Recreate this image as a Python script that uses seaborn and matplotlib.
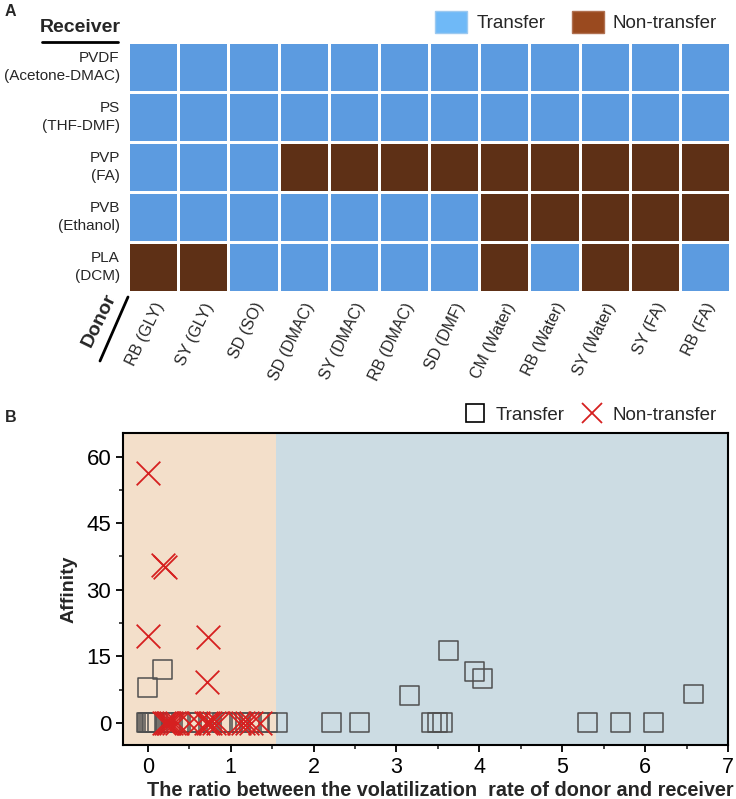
import numpy as np
import pandas as pd
import matplotlib
matplotlib.use("Agg")
import matplotlib.pyplot as plt
from matplotlib.colors import ListedColormap
from matplotlib.lines import Line2D
from matplotlib.patches import Patch
import seaborn as sns

sns.set_style("white")
plt.rcParams['font.family'] = ['Liberation Sans', 'DejaVu Sans']

# ---------------- data: panel A ----------------
receivers = ["PVDF\n(Acetone-DMAC)", "PS\n(THF-DMF)", "PVP\n(FA)", "PVB\n(Ethanol)", "PLA\n(DCM)"]
donors = ["RB (GLY)", "SY (GLY)", "SD (SO)", "SD (DMAC)", "SY (DMAC)", "RB (DMAC)",
          "SD (DMF)", "CM (Water)", "RB (Water)", "SY (Water)", "SY (FA)", "RB (FA)"]
# 1 = transfer, 0 = non-transfer
row_pvdf = [1, 1, 1, 1, 1, 1, 1, 1, 1, 1, 1, 1]
row_ps   = [1, 1, 1, 1, 1, 1, 1, 1, 1, 1, 1, 1]
row_pvp  = [1, 1, 1, 0, 0, 0, 0, 0, 0, 0, 0, 0]
row_pvb  = [1, 1, 1, 1, 1, 1, 1, 0, 0, 0, 0, 0]
row_pla  = [0, 0, 1, 1, 1, 1, 1, 0, 1, 0, 0, 1]

# ---------------- data: panel B ----------------
transfer_x = [0.0, 0.18, 3.63, 3.94, 4.04, 3.16, 6.58,
              -0.02, 0.0, 0.02, 0.04, 0.06, 0.08, 0.12, 0.2, 0.3, 0.4, 0.5, 0.6,
              0.75, 0.9, 0.95, 1.0, 1.1, 1.25, 1.35, 1.45, 1.56,
              2.22, 2.55, 3.42, 3.5, 3.55, 5.3, 5.7, 6.1]
transfer_y = [7.9, 12.1, 16.2, 11.5, 9.9, 6.1, 6.5,
              0, 0, 0, 0, 0, 0, 0, 0, 0, 0, 0, 0,
              0, 0, 0, 0, 0, 0, 0, 0, 0,
              0, 0, 0, 0, 0, 0, 0, 0]
nontransfer_x = [0.0, 0.18, 0.21, 0.0, 0.72, 0.71,
                 0.19, 0.22, 0.24, 0.26, 0.28, 0.31, 0.35, 0.5, 0.6, 0.7, 0.72, 0.75,
                 0.8, 0.85, 1.1, 1.15, 1.2, 1.25, 1.35]
nontransfer_y = [56.3, 35.6, 35.2, 19.6, 19.3, 9.1,
                 0, 0, 0, 0, 0, 0, 0, 0, 0, 0, 0, 0,
                 0, 0, 0, 0, 0, 0, 0]
boundary = 1.55

# ---------------- figure ----------------
W, H = 736, 799
fig = plt.figure(figsize=(W / 100, H / 100), dpi=100)

def fx(px):
    return px / W

def fy(py):
    return 1 - py / H

blue_cell = "#5c9be0"
brown_cell = "#5e3016"

# Panel A heatmap
axA = fig.add_axes([fx(128), fy(292), fx(730) - fx(128), fy(42) - fy(292)])
mat = pd.DataFrame([row_pvdf, row_ps, row_pvp, row_pvb, row_pla], index=receivers, columns=donors)
sns.heatmap(mat, ax=axA, cmap=ListedColormap([brown_cell, blue_cell]), vmin=0, vmax=1,
            cbar=False, linewidths=2, linecolor="white", square=False)
axA.tick_params(length=0, pad=6)
axA.set_yticklabels(receivers, rotation=0, fontsize=11, ha="right", linespacing=1.35)
axA.set_xticklabels(donors, rotation=64, fontsize=11.5, ha="right", rotation_mode="anchor")
axA.set_xlabel("")
axA.set_ylabel("")

fig.text(fx(5), fy(12), "A", fontsize=11.5, fontweight="bold", va="center", ha="left")
fig.text(fx(80), fy(27), "Receiver", fontsize=14, fontweight="bold", va="center", ha="center")
fig.add_artist(Line2D([fx(42), fx(118)], [fy(42), fy(42)], color="black", lw=2))
fig.text(fx(99), fy(320), "Donor", fontsize=14, fontweight="bold", va="center", ha="center", rotation=64)
fig.add_artist(Line2D([fx(100), fx(128)], [fy(361), fy(297)], color="black", lw=2))

legA = [Patch(facecolor="#6fb9f7", edgecolor="#9cc9f0", label="Transfer"),
        Patch(facecolor="#9a4a1f", edgecolor="#b07050", label="Non-transfer")]
fig.legend(handles=legA, loc="center right", bbox_to_anchor=(fx(734), fy(22)), ncol=2,
           frameon=False, fontsize=13.5, handlelength=1.7, handleheight=1.4,
           columnspacing=1.4, handletextpad=0.5)

# Panel B scatter
axB = fig.add_axes([fx(123), fy(745), fx(728) - fx(123), fy(433) - fy(745)])
xmin, xmax = -0.3, 7.0
axB.set_xlim(xmin, xmax)
axB.set_ylim(-5, 65.3)
axB.axvspan(xmin, boundary, color="#f3dfca", lw=0, zorder=0)
axB.axvspan(boundary, xmax, color="#ccdce3", lw=0, zorder=0)

df_t = pd.DataFrame({"x": transfer_x, "y": transfer_y})
df_n = pd.DataFrame({"x": nontransfer_x, "y": nontransfer_y})
sns.scatterplot(data=df_t, x="x", y="y", ax=axB, marker="s", s=185,
                facecolors="none", edgecolor="#505050", linewidth=1.1, zorder=3)
sns.scatterplot(data=df_n, x="x", y="y", ax=axB, marker="x", s=290,
                color="#d62020", linewidth=1.3, zorder=4)

axB.set_xticks(range(0, 8))
axB.set_yticks([0, 15, 30, 45, 60])
axB.set_xticks(np.arange(0.5, 7, 1), minor=True)
axB.set_yticks([7.5, 22.5, 37.5, 52.5], minor=True)
axB.tick_params(axis="both", which="major", direction="out", length=5, width=1.3,
                colors="black", bottom=True, left=True)
axB.tick_params(axis="y", which="major", labelsize=16)
axB.tick_params(axis="x", which="major", labelsize=15.5)
axB.tick_params(axis="both", which="minor", direction="out", length=3, width=1.2,
                bottom=True, left=True)
for sp in axB.spines.values():
    sp.set_color("black")
    sp.set_linewidth(1.5)
axB.set_xlabel("The ratio between the volatilization  rate of donor and receiver",
               fontsize=14.3, fontweight="bold", labelpad=2)
axB.xaxis.set_label_coords((440.5 - 123) / 605, -0.115)
axB.set_ylabel("Affinity", fontsize=14, fontweight="bold", labelpad=6)

fig.text(fx(5), fy(417), "B", fontsize=11.5, fontweight="bold", va="center", ha="left")
legB = [Line2D([], [], marker="s", ls="none", markersize=13, markerfacecolor="none",
               markeredgecolor="black", markeredgewidth=1.2, label="Transfer"),
        Line2D([], [], marker="x", ls="none", markersize=15, color="#d62020",
               markeredgewidth=1.3, label="Non-transfer")]
fig.legend(handles=legB, loc="center right", bbox_to_anchor=(fx(734), fy(415)), ncol=2,
           frameon=False, fontsize=13.5, handlelength=1.0, columnspacing=1.0,
           handletextpad=0.6)

fig.savefig("out.png", dpi=100)
